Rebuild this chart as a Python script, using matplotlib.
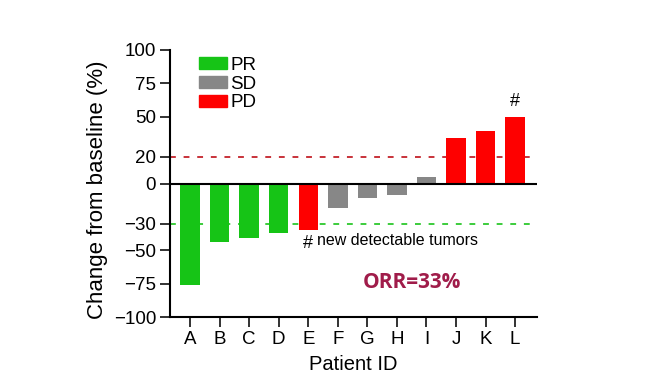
import numpy as np
import matplotlib.pyplot as plt
from matplotlib.patches import Patch

plt.rcParams['font.family'] = ['Liberation Sans', 'DejaVu Sans']

patients = ['A', 'B', 'C', 'D', 'E', 'F', 'G', 'H', 'I', 'J', 'K', 'L']
change = [-76, -44, -41, -37, -35, -18, -11, -8.5, 5, 34, 39, 50]
response = ['PR', 'PR', 'PR', 'PR', 'PD', 'SD', 'SD', 'SD', 'SD', 'PD', 'PD', 'PD']
yticks = [100, 75, 50, 20, 0, -30, -50, -75, -100]

colors = {'PR': '#16c416', 'SD': '#878787', 'PD': '#fe0000'}

fig = plt.figure(figsize=(6.61, 3.79), dpi=100)
ax = fig.add_axes([170/661, 62/379, 367/661, 267/379])

x = np.arange(len(patients))
ax.axhline(20, color='#c8323a', ls=(0, (3, 4)), lw=1.4, zorder=1)
ax.axhline(-30, color='#3ccc3c', ls=(0, (3, 4)), lw=1.4, zorder=1)
ax.bar(x, change, width=0.66, color=[colors[r] for r in response], zorder=2)
ax.axhline(0, color='black', lw=1.5, zorder=3)

ax.set_xlim(-0.68, 11.74)
ax.set_ylim(-100, 100)
ax.set_xticks(x)
ax.set_xticklabels(patients)
ax.set_yticks(yticks)
ax.set_yticklabels([str(t).replace('-', '\u2212') for t in yticks])
ax.tick_params(labelsize=13.5, length=7, width=1.3, color='#222222', pad=3)
for s in ['top', 'right']:
    ax.spines[s].set_visible(False)
for s in ['left', 'bottom']:
    ax.spines[s].set_linewidth(1.5)
ax.set_xlabel('Patient ID', fontsize=14.5, labelpad=5)
ax.set_ylabel('Change from baseline (%)', fontsize=16)
ax.yaxis.set_label_coords(-0.168, 0.475)

handles = [Patch(color=colors[k]) for k in ['PR', 'SD', 'PD']]
ax.legend(handles, ['PR', 'SD', 'PD'], loc='upper left', bbox_to_anchor=(0.08, 0.975),
          frameon=False, fontsize=13.5, handlelength=1.5, handleheight=0.65,
          handletextpad=0.15, labelspacing=0.1, borderpad=0, borderaxespad=0)

ax.text(11, 55, '#', ha='center', va='bottom', fontsize=13)
ax.text(4, -45, '#', ha='center', va='center', fontsize=13)
ax.text(4.3, -43, 'new detectable tumors', ha='left', va='center', fontsize=11.5)
ax.text(7.5, -74, 'ORR=33%', ha='center', va='center', fontsize=15,
        fontweight='bold', color='#a01c4a', family='Open Sans')

fig.savefig('out.png', dpi=100)
